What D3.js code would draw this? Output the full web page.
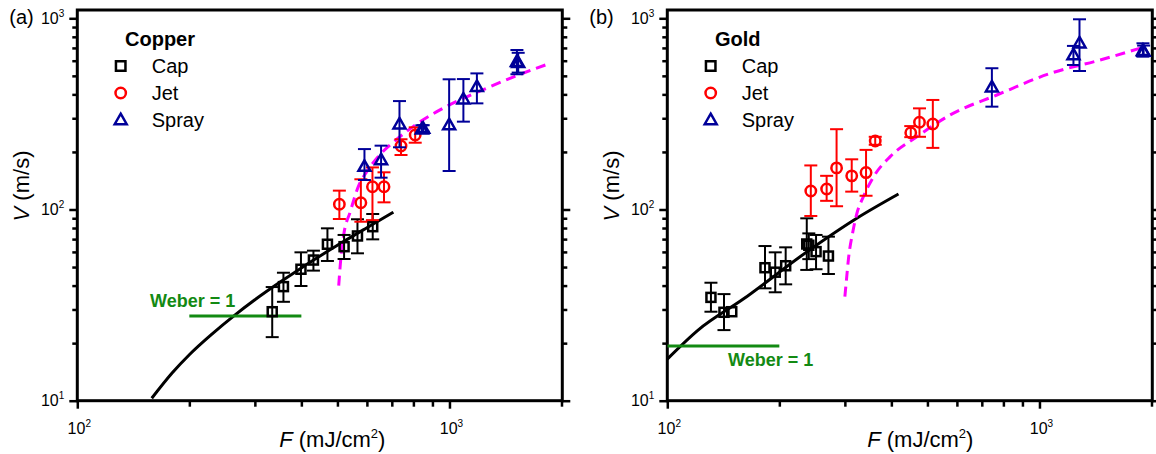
<!DOCTYPE html>
<html><head><meta charset="utf-8">
<script src="https://cdn.jsdelivr.net/npm/d3@7"></script>
<style>body{margin:0;background:#fff} svg{display:block;font-family:"Liberation Sans",Arial,sans-serif}</style>
</head><body><svg id="c" width="1156" height="454"></svg>
<script>
// ---------- tick values / labels ----------
const xMajor = [100, 1000];
const xMajorExp = ["2", "3"];
const xMinor = [200,300,400,500,600,700,800,900,2000];
const yMajor = [10, 100, 1000];
const yMajorExp = ["1", "2", "3"];
const yMinor = [20,30,40,50,60,70,80,90,200,300,400,500,600,700,800,900];
const seriesNames = ["Cap", "Jet", "Spray"];

// ---------- panel (a) Copper ----------
const capA_F  = [334, 358, 399, 431, 470, 521, 566, 622];
const capA_V  = [29.2, 39.5, 48.7, 54.4, 65.8, 63.9, 72.7, 81.3];
const capA_lo = [21.5, 32.9, 39.8, 47.9, 53.8, 55.1, 59, 69.8];
const capA_hi = [39.3, 46.7, 59.7, 60.9, 79.7, 73.6, 88.9, 94.7];

const jetA_F  = [506, 578, 621, 667, 741, 809];
const jetA_V  = [106.5, 108.5, 131.6, 131.6, 214.8, 245.2];
const jetA_lo = [89.2, 86.3, 88, 109, 192.8, 223.5];
const jetA_hi = [125.5, 143.9, 166, 156.5, 233, 269];

const sprayA_F  = [591, 655, 734, 843, 850, 998, 1090, 1185, 1518, 1530];
const sprayA_V  = [167.5, 181.5, 279, 262.7, 265, 276.7, 377, 438.6, 593, 585];
const sprayA_lo = [142.6, 146.7, 211.5, 252, 255, 159, 288, 359, 509.7, 520];
const sprayA_hi = [207, 215.7, 369, 275.6, 276, 479.7, 481, 515, 682.6, 660];

const fitA_F = [158.5, 180, 200, 230, 263, 300, 350, 400, 500, 600, 707];
const fitA_V = [10.3, 14.0, 17.4, 22.3, 27.7, 33.7, 41.6, 49.5, 65.0, 80.3, 96.8];

const dashA_F = [504, 510, 520, 541, 570, 600, 650, 722, 800, 925, 1100, 1234, 1500, 1865];
const dashA_V = [40, 54, 74, 97, 133, 158, 193, 233, 272, 325, 385, 424, 497, 582];

const weberA_F = [200, 400];
const weberA_V = 27.7;

// ---------- panel (b) Gold ----------
const capB_F  = [131, 142, 149, 183, 195, 208, 237, 240, 251, 271];
const capB_V  = [34.7, 29, 29.2, 49.6, 47, 50.8, 66, 65, 60.2, 57.1];
const capB_lo = [29.2, 23.4, 29.2, 38.7, 36.9, 40.6, 48.3, 55, 48.7, 46];
const capB_hi = [41.4, 36.1, 29.2, 64.4, 59.7, 63.4, 89.9, 75, 73.6, 72.1];

const jetB_F  = [243, 268, 285, 313, 342, 362, 451, 476, 517];
const jetB_V  = [125, 128, 165, 150, 156, 228, 252, 286, 280];
const jetB_lo = [92.5, 111, 104, 124, 118, 218, 239, 240, 210];
const jetB_hi = [170, 150, 263, 183, 205, 240, 273, 338, 374];

const sprayB_F  = [745, 1234, 1281, 1897, 1905];
const sprayB_V  = [436, 643, 740, 677, 670];
const sprayB_lo = [345, 570, 530, 630, 635];
const sprayB_hi = [548, 717, 988, 740, 720];

const fitB_F = [100, 121, 160, 237, 323, 418];
const fitB_V = [16.5, 23.4, 34, 60, 90, 120.5];

const dashB_F = [300, 303, 307, 315, 323, 336, 358, 397, 468, 575, 768, 1069, 1456, 1900];
const dashB_V = [35, 43, 56, 76, 95, 116, 148, 189, 240, 312, 397, 515, 605, 705];

const weberB_F = [100, 200];
const weberB_V = 19.3;

// ---------- drawing ----------
const svg = d3.select("#c");
const COL = {cap:"#000000", jet:"#ff0000", spray:"#000099", fit:"#000000", dash:"#ff00ff", weber:"#138a13"};
const fDomain = [100, 2010];
const vDomain = [10, 1105];
const TOP = 10, BOTTOM = 400.7;

function zip(F, V, lo, hi){ return F.map((f,i)=>({f, v:V[i], lo: lo?lo[i]:V[i], hi: hi?hi[i]:V[i]})); }

function drawMarker(g, type, cx, cy, big){
  if(type==="cap"){
    const s = big?9.5:9;
    g.append("rect").attr("x",cx-s/2).attr("y",cy-s/2).attr("width",s).attr("height",s)
      .attr("fill","none").attr("stroke",COL.cap).attr("stroke-width",2.5);
  } else if(type==="jet"){
    g.append("circle").attr("cx",cx).attr("cy",cy).attr("r",5.2)
      .attr("fill","none").attr("stroke",COL.jet).attr("stroke-width",2.5);
  } else {
    const h = 10.5, w = 12;
    const pts = [[cx, cy-h*0.6],[cx+w/2, cy+h*0.4],[cx-w/2, cy+h*0.4]];
    g.append("path").attr("d", "M"+pts.map(p=>p.join(",")).join("L")+"Z")
      .attr("fill","none").attr("stroke",COL.spray).attr("stroke-width",2.5).attr("stroke-linejoin","miter");
  }
}

function drawPanel(p){
  const x = d3.scaleLog().domain(fDomain).range([p.left, p.right]);
  const y = d3.scaleLog().domain(vDomain).range([BOTTOM, TOP]);
  const g = svg.append("g");

  const axes = [
    [d3.axisLeft(y).tickValues(yMajor).tickSize(8), `translate(${p.left},0)`],
    [d3.axisLeft(y).tickValues(yMinor).tickSize(5), `translate(${p.left},0)`],
    [d3.axisRight(y).tickValues(yMajor).tickSize(8), `translate(${p.right},0)`],
    [d3.axisRight(y).tickValues(yMinor).tickSize(5), `translate(${p.right},0)`],
    [d3.axisBottom(x).tickValues(xMajor).tickSize(8), `translate(0,${BOTTOM})`],
    [d3.axisBottom(x).tickValues(xMinor).tickSize(6), `translate(0,${BOTTOM})`]
  ];
  axes.forEach(([ax, tr])=>{
    const a = g.append("g").attr("transform", tr).call(ax.tickFormat(""));
    a.select(".domain").remove();
    a.selectAll("line").attr("stroke","#000").attr("stroke-width",2.5);
  });

  g.append("rect").attr("x",p.left).attr("y",TOP).attr("width",p.right-p.left).attr("height",BOTTOM-TOP)
    .attr("fill","none").attr("stroke","#000").attr("stroke-width",3);

  yMajor.forEach((v,i)=>{
    const t = g.append("text").attr("x",p.left-13).attr("y",y(v)+5.5).attr("text-anchor","end")
      .attr("font-size",16).attr("fill","#000");
    t.append("tspan").text("10");
    t.append("tspan").attr("font-size",10).attr("dy",-7).text(yMajorExp[i]);
  });
  xMajor.forEach((v,i)=>{
    const t = g.append("text").attr("x",x(v)+2).attr("y",BOTTOM+33).attr("text-anchor","middle")
      .attr("font-size",16).attr("fill","#000");
    t.append("tspan").text("10");
    t.append("tspan").attr("font-size",10).attr("dy",-7).text(xMajorExp[i]);
  });

  const xt = g.append("text").attr("x",p.left+p.xTitleDx).attr("y",447).attr("text-anchor","middle")
    .attr("font-size",22).attr("fill","#000");
  xt.append("tspan").attr("font-style","italic").text("F");
  xt.append("tspan").text(" (mJ/cm");
  xt.append("tspan").attr("font-size",13).attr("dy",-9).text("2");
  xt.append("tspan").attr("dy",9).text(")");

  const yt = g.append("text").attr("transform",`translate(${p.left-48},${186}) rotate(-90)`)
    .attr("text-anchor","middle").attr("font-size",22).attr("fill","#000");
  yt.append("tspan").attr("font-style","italic").text("V");
  yt.append("tspan").text(" (m/s)");

  g.append("text").attr("x",p.left+p.labelDx).attr("y",24).attr("font-size",20).attr("fill","#000").text(p.label);

  const clipId = "clip"+p.label.replace(/\W/g,"");
  svg.append("clipPath").attr("id",clipId).append("rect")
    .attr("x",p.left).attr("y",TOP).attr("width",p.right-p.left).attr("height",BOTTOM-TOP);
  const cg = g.append("g").attr("clip-path",`url(#${clipId})`);

  const line = d3.line().x(d=>x(d[0])).y(d=>y(d[1])).curve(d3.curveMonotoneX);
  cg.append("path").attr("d", line(p.fitF.map((f,i)=>[f,p.fitV[i]])))
    .attr("fill","none").attr("stroke",COL.fit).attr("stroke-width",3);
  cg.append("line").attr("x1",x(p.weberF[0])).attr("x2",x(p.weberF[1]))
    .attr("y1",y(p.weberV)).attr("y2",y(p.weberV)).attr("stroke",COL.weber).attr("stroke-width",3);
  g.append("text").attr("x",p.weberTx).attr("y",p.weberTy).attr("font-size",18).attr("font-weight","bold")
    .attr("fill",COL.weber).text("Weber = 1");

  const series = [["cap",p.cap],["jet",p.jet],["spray",p.spray]];
  series.forEach(([type, data])=>{
    const sg = g.append("g");
    data.forEach(d=>{
      const cx = x(d.f), cy = y(d.v);
      if(d.hi !== d.lo){
        sg.append("line").attr("x1",cx).attr("x2",cx).attr("y1",y(d.hi)).attr("y2",y(d.lo))
          .attr("stroke",COL[type]).attr("stroke-width",2);
        [d.hi, d.lo].forEach(e=>{
          sg.append("line").attr("x1",cx-6.5).attr("x2",cx+6.5).attr("y1",y(e)).attr("y2",y(e))
            .attr("stroke",COL[type]).attr("stroke-width",2);
        });
      }
      drawMarker(sg, type, cx, cy, false);
    });
  });

  cg.append("path").attr("d", line(p.dashF.map((f,i)=>[f,p.dashV[i]])))
    .attr("fill","none").attr("stroke",COL.dash).attr("stroke-width",3).attr("stroke-dasharray","10,6");

  g.append("text").attr("x",p.left+47.7).attr("y",46).attr("font-size",20).attr("font-weight","bold")
    .attr("fill","#000").text(p.metal);
  ["cap","jet","spray"].forEach((t,i)=>{
    const ly = 66 + i*27;
    drawMarker(g, t, p.left+43.4, ly, true);
    g.append("text").attr("x",p.left+74.4).attr("y",ly+7).attr("font-size",20).attr("fill","#000").text(seriesNames[i]);
  });
}

drawPanel({
  left:77.3, right:562.3, label:"(a)", labelDx:-68, metal:"Copper", xTitleDx:255,
  cap: zip(capA_F, capA_V, capA_lo, capA_hi),
  jet: zip(jetA_F, jetA_V, jetA_lo, jetA_hi),
  spray: zip(sprayA_F, sprayA_V, sprayA_lo, sprayA_hi),
  fitF: fitA_F, fitV: fitA_V, dashF: dashA_F, dashV: dashA_V,
  weberF: weberA_F, weberV: weberA_V, weberTx: 150, weberTy: 307
});
drawPanel({
  left:667.3, right:1152.3, label:"(b)", labelDx:-78, metal:"Gold", xTitleDx:253,
  cap: zip(capB_F, capB_V, capB_lo, capB_hi),
  jet: zip(jetB_F, jetB_V, jetB_lo, jetB_hi),
  spray: zip(sprayB_F, sprayB_V, sprayB_lo, sprayB_hi),
  fitF: fitB_F, fitV: fitB_V, dashF: dashB_F, dashV: dashB_V,
  weberF: weberB_F, weberV: weberB_V, weberTx: 728, weberTy: 366
});
</script></body></html>
